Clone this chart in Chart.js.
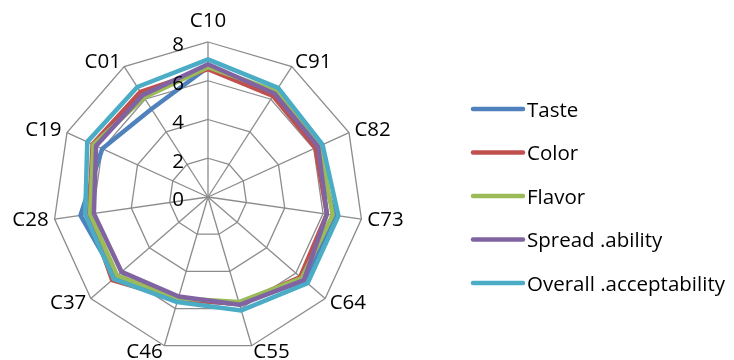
<!DOCTYPE html>
<html>
<head>
<meta charset="utf-8">
<script src="https://cdn.jsdelivr.net/npm/chart.js@4/dist/chart.umd.min.js"></script>
<style>
  html, body { margin: 0; padding: 0; background: #ffffff; }
  canvas { display: block; }
</style>
</head>
<body>
<canvas id="chart" width="734" height="360"></canvas>
<script>
// Sensory scores per sample (0-8 scale)
const categories = ['C10', 'C91', 'C82', 'C73', 'C64', 'C55', 'C46', 'C37', 'C28', 'C19', 'C01'];
const taste   = [6.7, 6.4, 6.1, 6.6, 6.6, 5.75, 5.5, 6.3, 6.65, 6.0, 5.4];
const color   = [6.6, 6.2, 6.1, 6.2, 6.3, 5.75, 5.5, 6.55, 6.2, 6.55, 6.45];
const flavor  = [6.7, 6.5, 6.35, 6.5, 6.4, 5.65, 5.45, 6.2, 6.15, 6.5, 6.1];
const spread  = [6.85, 6.35, 6.25, 6.2, 6.55, 5.8, 5.35, 5.9, 5.95, 6.35, 6.25];
const overall = [7.1, 6.7, 6.5, 6.8, 6.8, 6.1, 5.65, 6.45, 6.4, 6.85, 6.75];
const seriesNames = ['Taste', 'Color', 'Flavor', 'Spread .ability', 'Overall .acceptability'];
const tickValues = [0, 2, 4, 6, 8];

const seriesColors = ['#4F81BD', '#C0504D', '#9BBB59', '#8064A2', '#4BACC6'];
const seriesData = [taste, color, flavor, spread, overall];
const TEXT_FONT = '20.5px "Open Sans"';

// Category labels, tick labels and legend drawn around the radar
const radarText = {
  id: 'radarText',
  afterDraw(chart) {
    const ctx = chart.ctx;
    const s = chart.scales.r;
    ctx.save();
    ctx.font = TEXT_FONT;
    ctx.fillStyle = '#000000';
    ctx.textBaseline = 'alphabetic';

    // category labels just outside the outer ring
    chart.data.labels.forEach((label, i) => {
      const p = s.getPointPosition(i, s.drawingArea + 6);
      const c = Math.cos(p.angle);
      if (Math.abs(c) < 0.05) {
        ctx.textAlign = 'center';
        ctx.fillText(label, p.x, p.y - 9);
      } else {
        ctx.textAlign = c > 0 ? 'left' : 'right';
        ctx.fillText(label, p.x, p.y + 6.3);
      }
    });

    // value labels to the left of the vertical axis
    ctx.textAlign = 'right';
    s.ticks.forEach((t) => {
      const y = s.yCenter - s.getDistanceFromCenterForValue(t.value);
      ctx.fillText(t.label, s.xCenter - 24, y + 9.3);
    });

    // legend
    const x0 = 473, x1 = 523, yStart = 109, step = 43.5;
    chart.data.datasets.forEach((ds, i) => {
      const y = yStart + step * i;
      ctx.beginPath();
      ctx.strokeStyle = ds.borderColor;
      ctx.lineWidth = 4.5;
      ctx.lineCap = 'round';
      ctx.moveTo(x0, y);
      ctx.lineTo(x1, y);
      ctx.stroke();
      ctx.textAlign = 'left';
      ctx.fillText(ds.label, 527, y + 7.8);
    });
    ctx.restore();
  }
};

new Chart(document.getElementById('chart'), {
  type: 'radar',
  data: {
    labels: categories,
    datasets: seriesNames.map((name, i) => ({
      label: name,
      data: seriesData[i],
      borderColor: seriesColors[i],
      backgroundColor: seriesColors[i],
      borderWidth: 4.5,
      borderJoinStyle: 'round',
      borderCapStyle: 'round',
      fill: false,
      pointRadius: 0,
      pointHoverRadius: 0,
      tension: 0,
      // later series are painted on top
      order: seriesNames.length - i
    }))
  },
  options: {
    responsive: false,
    animation: false,
    devicePixelRatio: 1,
    layout: { padding: { left: 53, right: 371, top: 42, bottom: 8 } },
    plugins: {
      legend: { display: false },
      tooltip: { enabled: false }
    },
    scales: {
      r: {
        min: 0,
        max: 8,
        startAngle: 0,
        afterBuildTicks: (scale) => {
          scale.ticks = tickValues.map((v) => ({ value: v }));
        },
        ticks: { display: false, stepSize: 2 },
        grid: { color: '#8c8c8c', lineWidth: 1.3 },
        angleLines: { color: '#8c8c8c', lineWidth: 1.3 },
        pointLabels: { display: false }
      }
    }
  },
  plugins: [radarText]
});
</script>
</body>
</html>
